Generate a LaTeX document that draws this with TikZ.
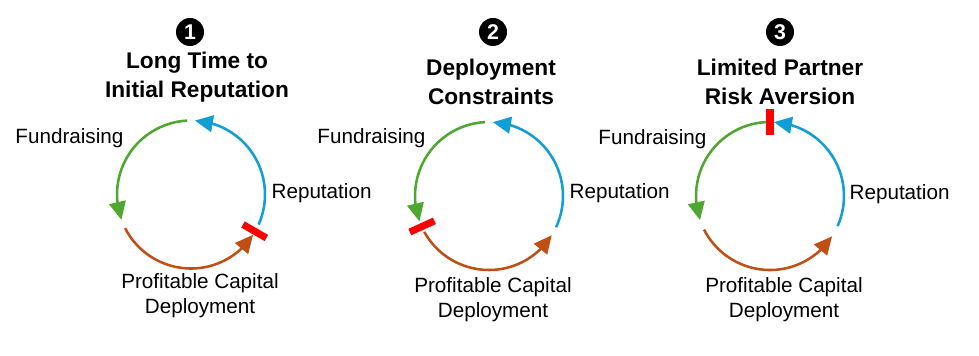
\documentclass[tikz,border=0pt]{standalone}
\usepackage{fontspec}
\setmainfont{Liberation Sans}
\usetikzlibrary{arrows.meta, bending}
\definecolor{loopgreen}{RGB}{78,167,46}
\definecolor{loopblue}{RGB}{15,158,213}
\definecolor{loopbrown}{RGB}{192,79,21}
\definecolor{stopred}{RGB}{255,0,0}
\tikzset{
  % Sikl yoylari
  cyclearc/.style  = {line width=1.9pt, -{Triangle[length=13.5pt,width=12.5pt]}},
  greenarc/.style  = {cyclearc, draw=loopgreen},
  brownarc/.style  = {cyclearc, draw=loopbrown},
  bluearc/.style   = {cyclearc, draw=loopblue},
  % To'siq
  stopbar/.style   = {line width=5.3pt, draw=stopred},
  % Raqamlar
  numdot/.style    = {circle, fill=black, text=white, inner sep=0pt,
                      minimum size=21pt, font=\bfseries\fontsize{16}{16}\selectfont},
  % Etiketlar
  ttl/.style       = {align=center, inner sep=1pt,
                      font=\bfseries\fontsize{17}{21.75}\selectfont},
  lab/.style       = {align=center, inner sep=1pt,
                      font=\fontsize{15.5}{18.75}\selectfont},
}
\begin{document}
\begin{tikzpicture}[x=0.75pt,y=0.75pt]
  \useasboundingbox[fill=white] (0,0) rectangle (979,356);
  % Markazlar
  \coordinate (c1) at (191,161.5);
  \coordinate (c2) at (489,160);
  \coordinate (c3) at (770,160);

  % Birinchi sikl
  \node[numdot] (n1) at (190,324) {1};
  \node[ttl] (t1) at (197,279) {Long Time to\\Initial Reputation};
  \draw[greenarc] ([shift={(93:74)}]c1) arc[start angle=93, end angle=200, radius=74];
  \draw[brownarc] ([shift={(207:74)}]c1) arc[start angle=207, end angle=327, radius=74];
  \draw[bluearc] ([shift={(336:74)}]c1) arc[start angle=336, end angle=447, radius=74];
  \draw[stopbar] ([shift={(-30:60)}]c1) -- ([shift={(-30:87)}]c1);
  \node[lab, anchor=east] (f1) at (125,218) {Fundraising};
  \node[lab, anchor=west] (r1) at (270,163) {Reputation};
  \node[lab] (p1) at (200,60) {Profitable Capital\\Deployment};

  % Ikkinchi sikl
  \node[numdot] (n2) at (493,324) {2};
  \node[ttl] (t2) at (491,274) {Deployment\\Constraints};
  \draw[greenarc] ([shift={(93:74)}]c2) arc[start angle=93, end angle=200, radius=74];
  \draw[brownarc] ([shift={(209:74)}]c2) arc[start angle=209, end angle=328, radius=74];
  \draw[bluearc] ([shift={(335:74)}]c2) arc[start angle=335, end angle=447, radius=74];
  \draw[stopbar] ([shift={(204.5:60)}]c2) -- ([shift={(204.5:87)}]c2);
  \node[lab, anchor=east] (f2) at (427,218) {Fundraising};
  \node[lab, anchor=west] (r2) at (568,163) {Reputation};
  \node[lab] (p2) at (493,56) {Profitable Capital\\Deployment};

  % Uchinchi sikl
  \node[numdot] (n3) at (780,324) {3};
  \node[ttl] (t3) at (780,274) {Limited Partner\\Risk Aversion};
  \draw[greenarc] ([shift={(93:74)}]c3) arc[start angle=93, end angle=199, radius=74];
  \draw[brownarc] ([shift={(207:74)}]c3) arc[start angle=207, end angle=327, radius=74];
  \draw[bluearc] ([shift={(336:74)}]c3) arc[start angle=336, end angle=447, radius=74];
  \draw[stopbar] ([shift={(90:61)}]c3) -- ([shift={(90:87)}]c3);
  \node[lab, anchor=east] (f3) at (708,217) {Fundraising};
  \node[lab, anchor=west] (r3) at (848,162) {Reputation};
  \node[lab] (p3) at (784,56) {Profitable Capital\\Deployment};
\end{tikzpicture}
\end{document}
